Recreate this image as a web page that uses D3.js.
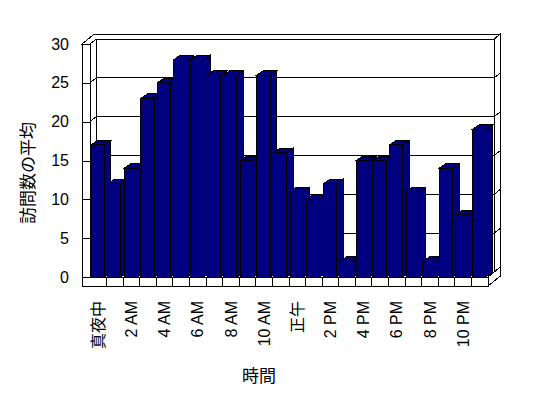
<!DOCTYPE html>
<html>
<head>
<meta charset="utf-8">
<script src="https://cdn.jsdelivr.net/npm/d3@7"></script>
<style>
  body { margin: 0; background: #fff; }
  svg { display: block; }
  .axis text { font-family: "Liberation Sans", "Noto Sans CJK JP", sans-serif; font-size: 16px; fill: #000; }
  .axis path, .axis line { stroke: #000; shape-rendering: crispEdges; }
  .title { font-family: "Noto Sans CJK JP", sans-serif; font-size: 17px; fill: #000; }
</style>
</head>
<body>
<svg id="chart" width="548" height="398"></svg>
<script>
var hours = ["真夜中", "1 AM", "2 AM", "3 AM", "4 AM", "5 AM", "6 AM", "7 AM", "8 AM", "9 AM", "10 AM", "11 AM",
             "正午", "1 PM", "2 PM", "3 PM", "4 PM", "5 PM", "6 PM", "7 PM", "8 PM", "9 PM", "10 PM", "11 PM"];
var visits = [17, 12, 14, 23, 25, 28, 28, 26, 26, 15, 26, 16, 11, 10, 12, 2, 15, 15, 17, 11, 2, 14, 8, 19];
var hourLabels = ["真夜中", "2 AM", "4 AM", "6 AM", "8 AM", "10 AM", "正午", "2 PM", "4 PM", "6 PM", "8 PM", "10 PM"];
var valueTicks = [0, 5, 10, 15, 20, 25, 30];

var svg = d3.select("svg#chart"),
    x = d3.scaleBand().domain(hours).range([90, 488]),
    y = d3.scaleLinear().domain([0, 30]).range([277, 44]);

var xLeft = x.range()[0], xRight = x.range()[1], yBase = y(0), yTop = y(30);
var dx = 6.2, dy = -5;        // depth of the plot (front -> back wall)
var bdx = 6.6, bdy = -4.5;    // depth of a column
var wallW = 8, floorH = 9;

function poly(pts) { return "M" + pts.map(function(p) { return p.join(","); }).join("L") + "Z"; }

var walls = svg.append("g")
    .attr("fill", "#fff")
    .attr("stroke", "#000")
    .attr("stroke-width", 1)
    .attr("shape-rendering", "crispEdges");

// back wall, left wall inner face, floor top
walls.append("path").attr("d", poly([[xLeft + dx, yTop + dy], [xRight + dx, yTop + dy], [xRight + dx, yBase + dy], [xLeft + dx, yBase + dy]]));
walls.append("path").attr("d", poly([[xLeft, yTop], [xLeft + dx, yTop + dy], [xLeft + dx, yBase + dy], [xLeft, yBase]]));
walls.append("path").attr("d", poly([[xLeft, yBase], [xRight, yBase], [xRight + dx, yBase + dy], [xLeft + dx, yBase + dy]]));

// top of the walls
walls.append("path").attr("d", poly([[xLeft - wallW, yTop], [xLeft, yTop], [xLeft + dx, yTop + dy], [xRight + dx, yTop + dy],
                                     [xRight + 2 * dx, yTop + 2 * dy], [xLeft - wallW + 2 * dx, yTop + 2 * dy]]));
// right side of back wall + floor
walls.append("path").attr("d", poly([[xRight + dx, yTop + dy], [xRight + 2 * dx, yTop + 2 * dy], [xRight + 2 * dx, yBase + floorH + 2 * dy],
                                     [xRight, yBase + floorH], [xRight, yBase], [xRight + dx, yBase + dy]]));

// gridlines
walls.selectAll("path.grid")
  .data(valueTicks)
  .enter().append("path")
    .attr("class", "grid")
    .attr("fill", "none")
    .attr("d", function(v) {
      var yy = y(v);
      return "M" + xLeft + "," + yy + "L" + (xLeft + dx) + "," + (yy + dy) + "H" + (xRight + dx) +
             "L" + (xRight + 2 * dx) + "," + (yy + 2 * dy);
    });

// left wall end cap and floor front face
walls.append("rect").attr("x", xLeft - wallW).attr("y", yTop).attr("width", wallW).attr("height", yBase - yTop);
walls.append("rect").attr("x", xLeft - wallW).attr("y", yBase).attr("width", xRight - xLeft + wallW).attr("height", floorH);

walls.selectAll("line.sep")
  .data(hours.slice(1))
  .enter().append("line")
    .attr("class", "sep")
    .attr("x1", function(d) { return x(d); })
    .attr("x2", function(d) { return x(d); })
    .attr("y1", yBase)
    .attr("y2", yBase + floorH);

// columns
var bw = x.bandwidth() * 0.8;
var bars = svg.append("g")
    .attr("fill", "#000080")
    .attr("stroke", "#000")
    .attr("stroke-width", 1)
    .attr("shape-rendering", "crispEdges")
  .selectAll("g")
  .data(hours.map(function(h, i) { return {hour: h, value: visits[i]}; }))
  .enter().append("g");

bars.append("path")
    .attr("d", function(d) {
      var x0 = x(d.hour) + 1, yt = y(d.value);
      return poly([[x0 + bw, yt], [x0 + bw + bdx, yt + bdy], [x0 + bw + bdx, yBase + bdy], [x0 + bw, yBase]]);
    });
bars.append("path")
    .attr("d", function(d) {
      var x0 = x(d.hour) + 1, yt = y(d.value);
      return poly([[x0, yt], [x0 + bw, yt], [x0 + bw + bdx, yt + bdy], [x0 + bdx, yt + bdy]]);
    });
bars.append("rect")
    .attr("x", function(d) { return x(d.hour) + 1; })
    .attr("y", function(d) { return y(d.value); })
    .attr("width", bw)
    .attr("height", function(d) { return yBase - y(d.value); });

// axes
svg.append("g")
    .attr("class", "axis")
    .attr("transform", "translate(" + xLeft + ",0)")
    .call(d3.axisLeft(y).tickValues(valueTicks).tickSize(wallW).tickPadding(13));

var xAxis = svg.append("g")
    .attr("class", "axis")
    .attr("transform", "translate(0," + (yBase + floorH) + ")")
    .call(d3.axisBottom(x).tickValues(hourLabels).tickSize(0));
xAxis.select(".domain").remove();
xAxis.selectAll("text")
    .attr("transform", "rotate(-90)")
    .attr("x", -15)
    .attr("y", 0)
    .attr("dy", "0.35em")
    .style("text-anchor", "end");

svg.append("text")
    .attr("class", "title")
    .attr("transform", "translate(28,173) rotate(-90)")
    .attr("text-anchor", "middle")
    .attr("dy", "0.35em")
    .text("訪問数の平均");

svg.append("text")
    .attr("class", "title")
    .attr("x", 259)
    .attr("y", 376)
    .attr("text-anchor", "middle")
    .attr("dy", "0.35em")
    .text("時間");
</script>
</body>
</html>
